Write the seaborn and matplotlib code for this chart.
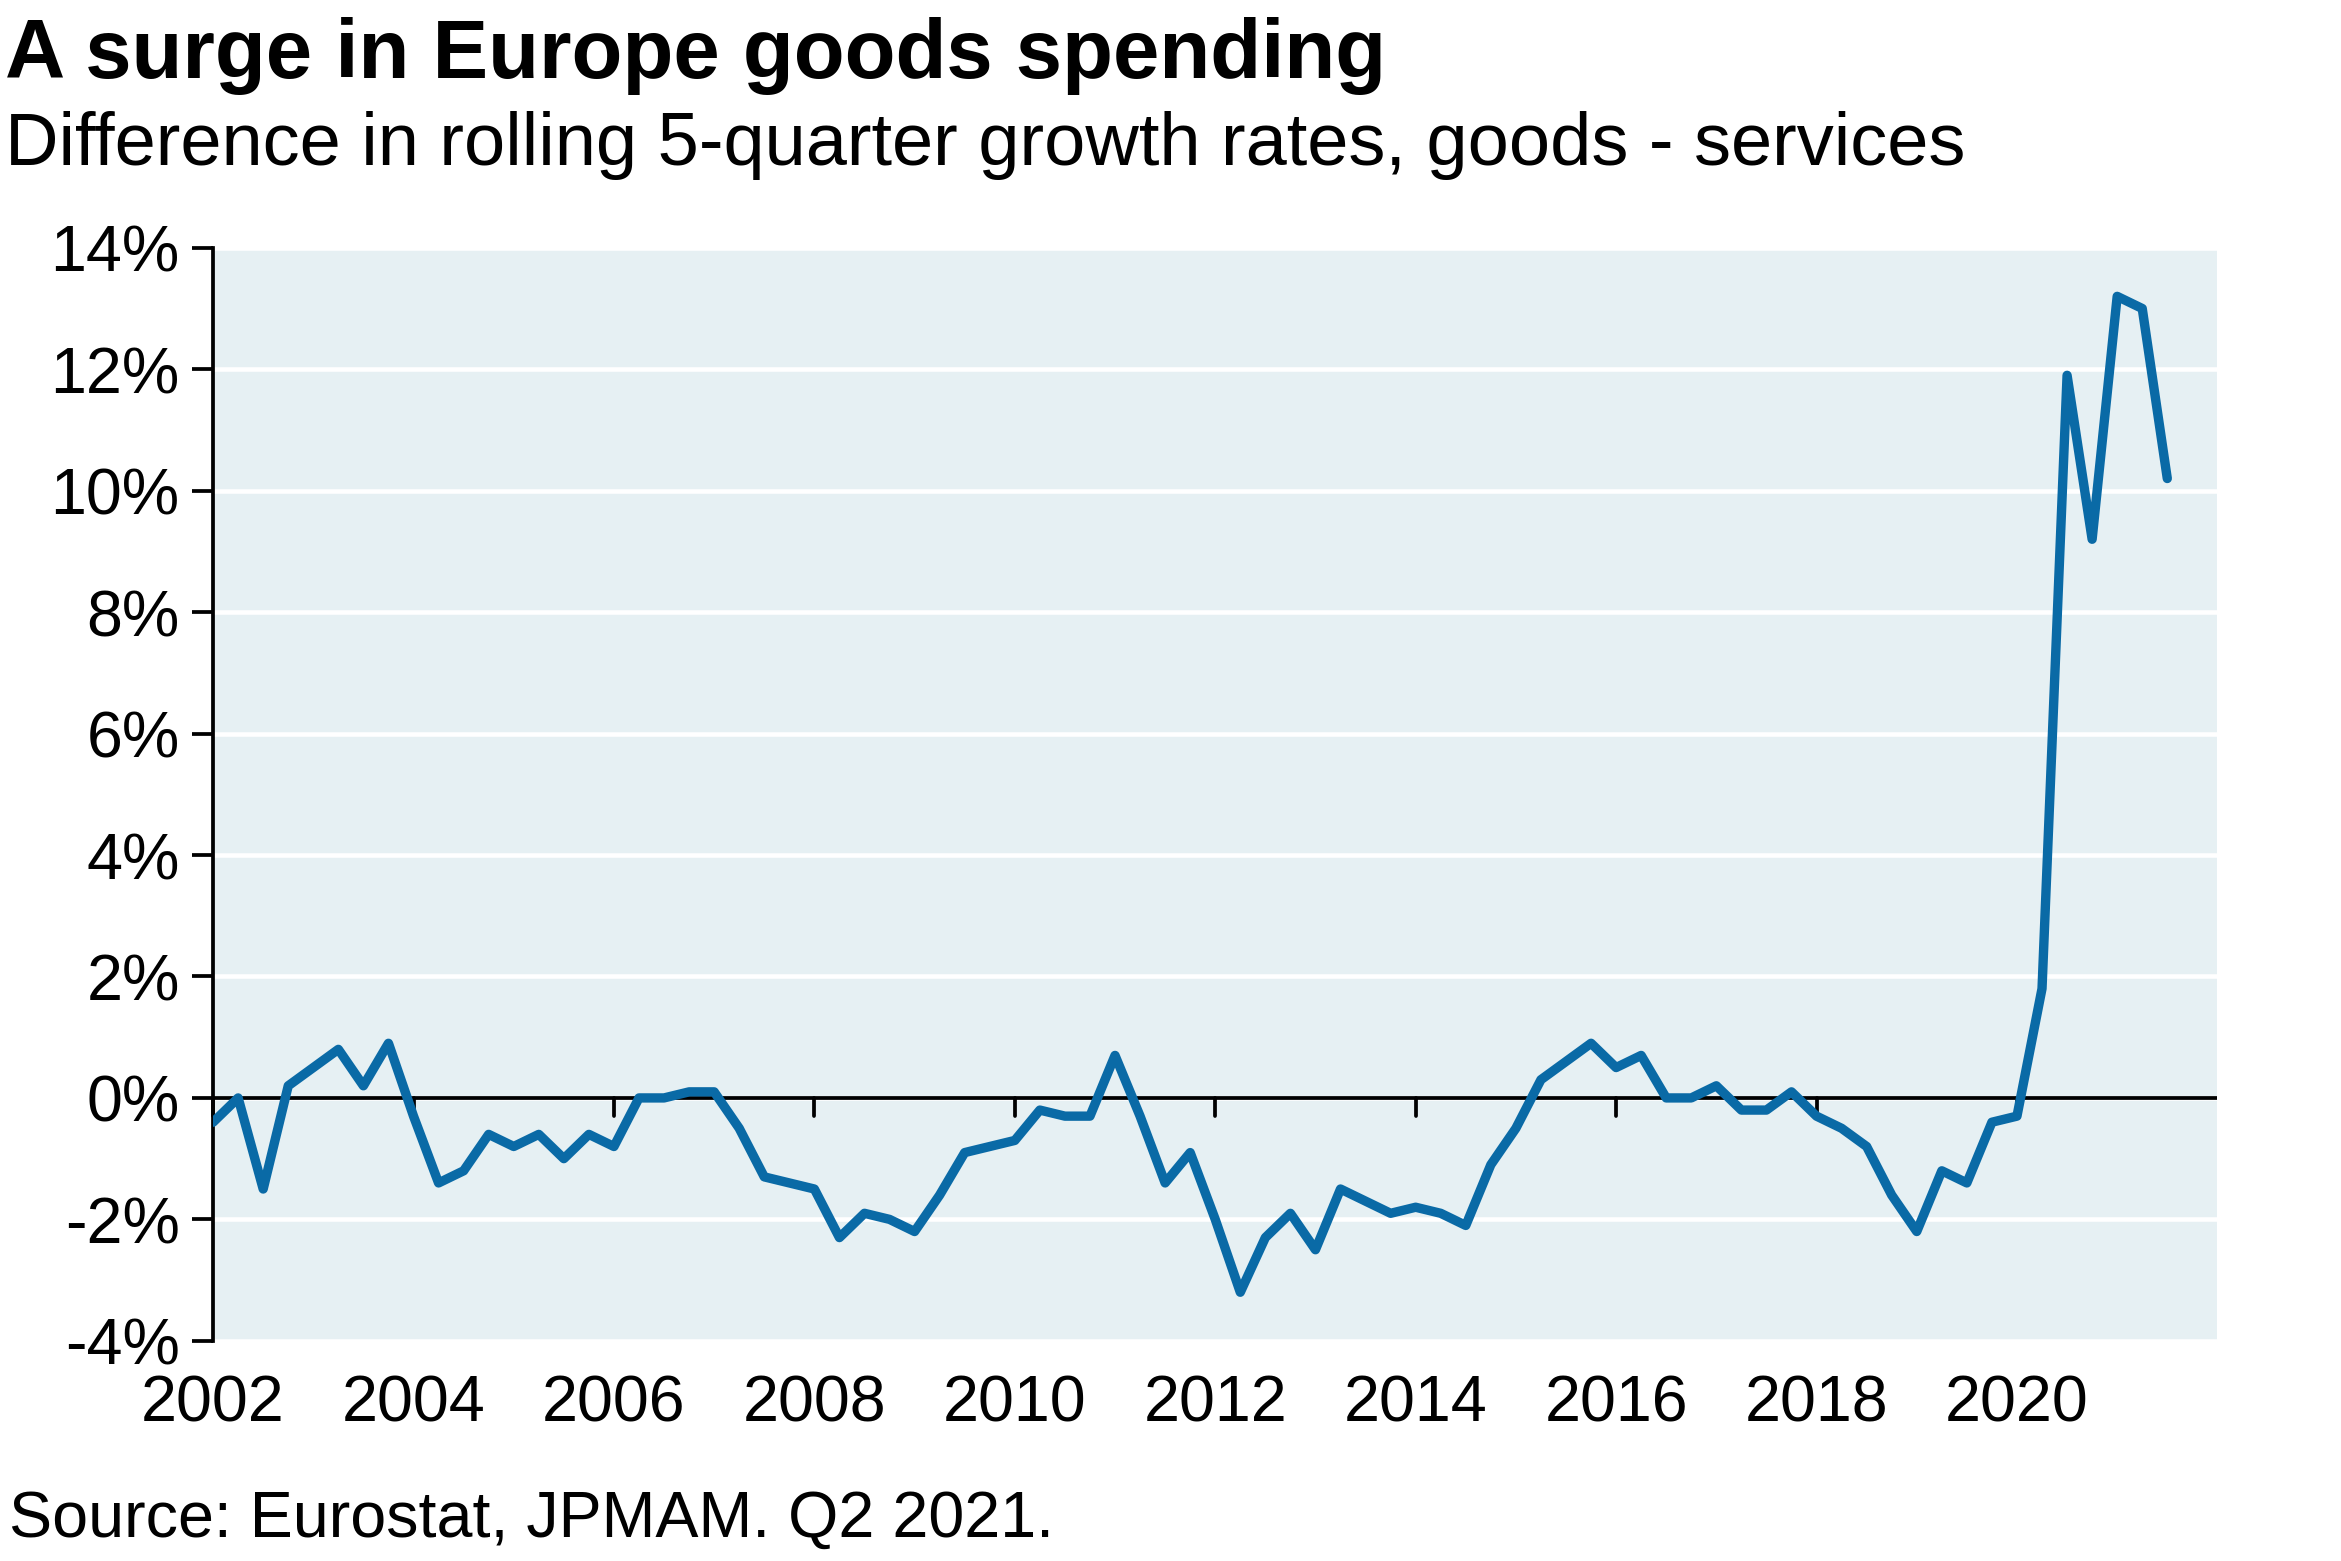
import matplotlib
matplotlib.use("Agg")
import matplotlib.pyplot as plt
import seaborn as sns
import pandas as pd
import numpy as np

# quarterly values, 2002 Q1 .. 2021 Q3
start_year = 2002.0
diff_pct = [
    -0.4, 0.0, -1.5, 0.2, 0.5, 0.8, 0.2, 0.9,
    -0.3, -1.4, -1.2, -0.6, -0.8, -0.6, -1.0, -0.6,
    -0.8, 0.0, 0.0, 0.1, 0.1, -0.5, -1.3, -1.4,
    -1.5, -2.3, -1.9, -2.0, -2.2, -1.6, -0.9, -0.8,
    -0.7, -0.2, -0.3, -0.3, 0.7, -0.3, -1.4, -0.9,
    -2.0, -3.2, -2.3, -1.9, -2.5, -1.5, -1.7, -1.9,
    -1.8, -1.9, -2.1, -1.1, -0.5, 0.3, 0.6, 0.9,
    0.5, 0.7, 0.0, 0.0, 0.2, -0.2, -0.2, 0.1,
    -0.3, -0.5, -0.8, -1.6, -2.2, -1.2, -1.4, -0.4,
    -0.3, 1.8, 11.9, 9.2, 13.2, 13.0, 10.2,
]
yticks = [-4, -2, 0, 2, 4, 6, 8, 10, 12, 14]
xticks = list(range(2002, 2021, 2))

df = pd.DataFrame({"t": start_year + np.arange(len(diff_pct)) * 0.25, "v": diff_pct})

sns.set_style("white")
plt.rcParams["font.family"] = ["Liberation Sans", "DejaVu Sans"]
plt.rcParams["text.color"] = "black"
plt.rcParams["xtick.color"] = "black"
plt.rcParams["ytick.color"] = "black"

fig = plt.figure(figsize=(15.61, 10.41), dpi=150)
ax = fig.add_axes([0.091, 0.141, 0.856, 0.700])
ax.set_facecolor("#E6F0F3")
for y in yticks:
    ax.axhline(y, color="white", lw=2.2, zorder=0)
ax.axhline(0, color="black", lw=1.8, zorder=1)

sns.lineplot(data=df, x="t", y="v", ax=ax, color="#0A6AA6", lw=4.5, zorder=3,
             solid_joinstyle="round", solid_capstyle="round")

ax.set_xlim(2002, 2022)
ax.set_ylim(-4, 14)
ax.set_yticks(yticks)
ax.set_yticklabels([f"{v}%" for v in yticks], fontsize=31)
ax.set_xticks(xticks)
ax.set_xticklabels([str(x) for x in xticks], fontsize=31)
ax.set_xlabel("")
ax.set_ylabel("")
for s in ["top", "right", "bottom"]:
    ax.spines[s].set_visible(False)
ax.spines["left"].set_color("black")
ax.spines["left"].set_linewidth(1.8)
ax.tick_params(axis="y", length=10, width=1.8, direction="out", pad=6, left=True)
ax.tick_params(axis="x", length=0, pad=16)
# x ticks hanging from zero line
for x in xticks:
    ax.plot([x, x], [0, -0.3], color="black", lw=1.8, zorder=2, clip_on=False)

fig.text(0.002, 0.964, "A surge in Europe goods spending", fontsize=40, fontweight="bold", va="center")
fig.text(0.002, 0.907, "Difference in rolling 5-quarter growth rates, goods - services", fontsize=35.5, va="center")
fig.text(0.004, 0.027, "Source: Eurostat, JPMAM. Q2 2021.", fontsize=31, va="center")

fig.savefig("out.png", dpi=150)
